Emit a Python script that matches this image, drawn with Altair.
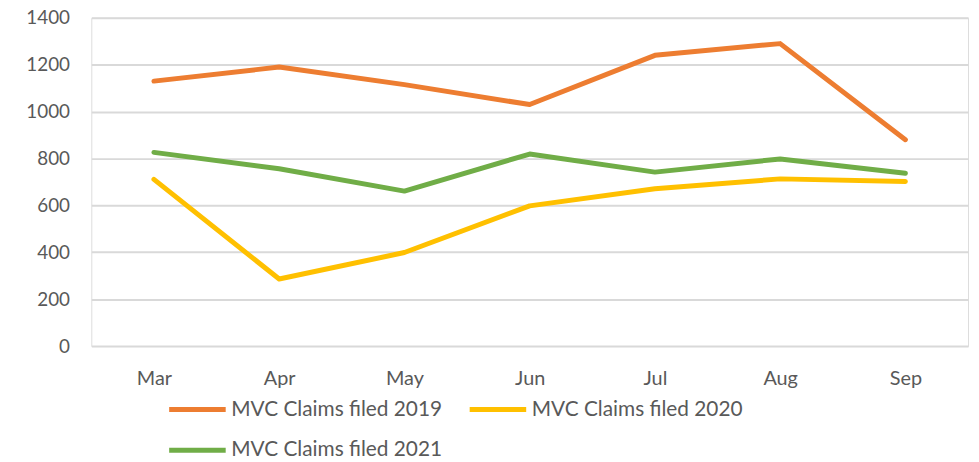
import altair as alt
import pandas as pd

months = ["Mar", "Apr", "May", "Jun", "Jul", "Aug", "Sep"]
series_names = ["MVC Claims filed 2019", "MVC Claims filed 2020", "MVC Claims filed 2021"]
claims_2019 = [1130, 1190, 1115, 1030, 1240, 1290, 880]
claims_2020 = [711, 286, 399, 598, 671, 713, 702]
claims_2021 = [826, 756, 661, 819, 742, 798, 737]
colors = ["#ED7D31", "#FFC000", "#70AD47"]

rows = []
for name, vals in zip(series_names, [claims_2019, claims_2020, claims_2021]):
    for i, (m, v) in enumerate(zip(months, vals)):
        rows.append({"Month": m, "Idx": i, "Series": name, "Claims": v})
df = pd.DataFrame(rows)

FONT = "Lato"
TEXT = "#595959"

chart = alt.Chart(df).mark_line(strokeWidth=5, strokeCap="round", strokeJoin="round").encode(
    x=alt.X("Month:N", sort=months, scale=alt.Scale(paddingInner=0, paddingOuter=0),
            axis=alt.Axis(title=None, labelAngle=0, ticks=False, domain=False, grid=False,
                          labelFontSize=20, labelColor=TEXT, labelFont=FONT, labelPadding=23)),
    y=alt.Y("Claims:Q", scale=alt.Scale(domain=[0, 1400]),
            axis=alt.Axis(title=None, values=[0, 200, 400, 600, 800, 1000, 1200, 1400],
                          format="d", ticks=False, domain=False, gridColor="#D9D9D9", gridWidth=2,
                          labelFontSize=19, labelColor=TEXT, labelFont=FONT, labelPadding=22)),
    color=alt.Color("Series:N", sort=series_names,
                    scale=alt.Scale(domain=series_names, range=colors),
                    legend=alt.Legend(title=None, orient="none", legendX=76, legendY=364,
                                      direction="horizontal", columns=2, symbolType="stroke",
                                      symbolSize=3249, symbolStrokeWidth=5, labelFontSize=21,
                                      labelColor=TEXT, labelFont=FONT, labelOffset=3,
                                      columnPadding=17, rowPadding=-17, labelLimit=400)),
    order=alt.Order("Idx:Q")
).properties(
    width=884, height=331,
    autosize=alt.AutoSizeParams(type="none"),
    padding={"left": 84, "top": 8, "right": 3, "bottom": 115}
).configure_view(stroke=None).configure(background="white")

chart.save("out.html", embed_options={"renderer": "svg", "actions": False})
